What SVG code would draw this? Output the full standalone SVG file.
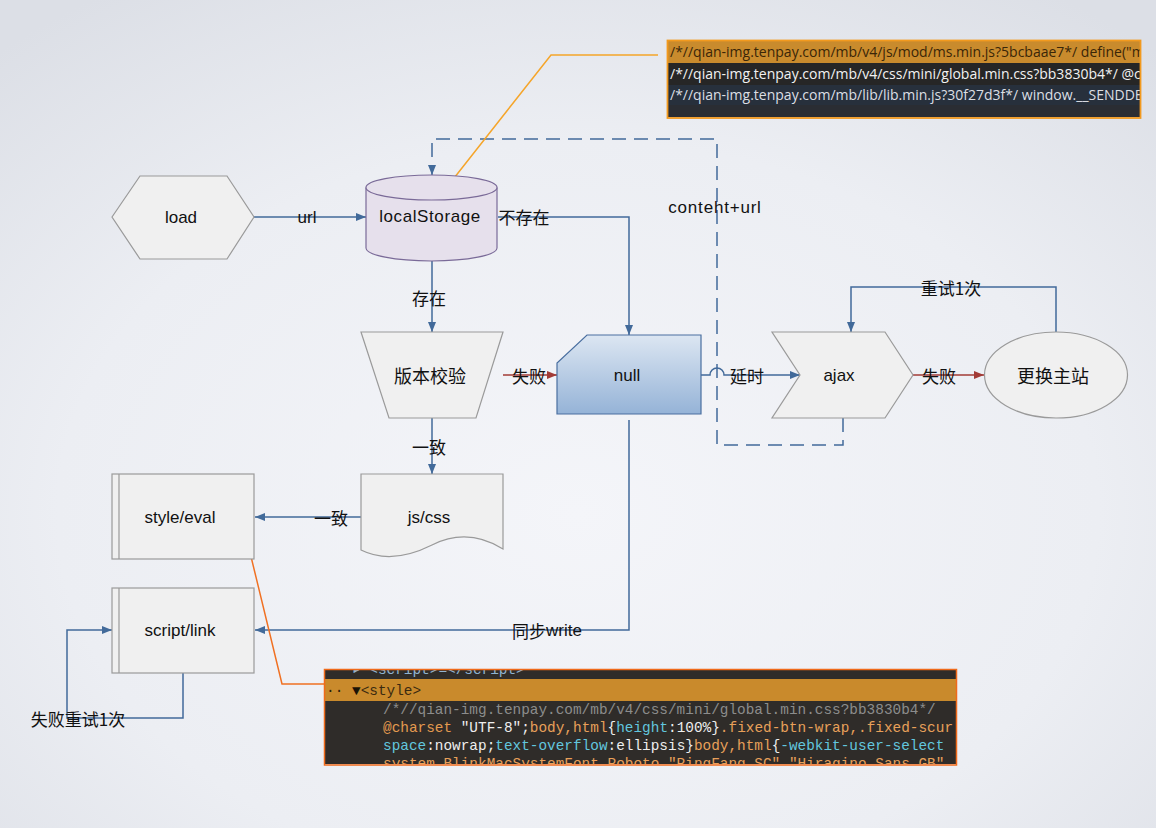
<svg xmlns="http://www.w3.org/2000/svg" width="1156" height="828" viewBox="0 0 1156 828">
  <defs>
    <radialGradient id="bg" cx="0.5" cy="0.62" r="0.75">
      <stop offset="0" stop-color="#f4f5f9"/>
      <stop offset="0.6" stop-color="#eceef3"/>
      <stop offset="1" stop-color="#dcdfe6"/>
    </radialGradient>
    <linearGradient id="nullFill" x1="0" y1="0" x2="0" y2="1">
      <stop offset="0" stop-color="#dce6f2"/>
      <stop offset="1" stop-color="#95b3d7"/>
    </linearGradient>
    <marker id="arr" viewBox="0 0 10 8" refX="10" refY="4" markerWidth="11" markerHeight="8" markerUnits="userSpaceOnUse" orient="auto">
      <path d="M0,0 L10,4 L0,8 Z" fill="#426a9a"/>
    </marker>
    <marker id="arrRed" viewBox="0 0 10 8" refX="10" refY="4" markerWidth="11" markerHeight="8" markerUnits="userSpaceOnUse" orient="auto">
      <path d="M0,0 L10,4 L0,8 Z" fill="#a23b36"/>
    </marker>
    <clipPath id="clipTop"><rect x="668" y="41" width="472" height="76"/></clipPath>
    <clipPath id="clipBottom"><rect x="325" y="670" width="631" height="94"/></clipPath>
    <style>
      .shape { fill: #f0f0f0; stroke: #9a9a9a; stroke-width: 1.2; }
      .lbl { font-family: "Liberation Sans", Arial, sans-serif; font-size: 17px; fill: #111; text-anchor: middle; dominant-baseline: central; }
      .cjk { font-family: "Noto Sans CJK SC", "Liberation Sans", sans-serif; font-size: 17px; fill: #111; text-anchor: middle; dominant-baseline: central; }
      .big { font-size: 18px; }
      .edge { fill: none; stroke: #426a9a; stroke-width: 1.5; }
      .edge-red { fill: none; stroke: #a23b36; stroke-width: 1.5; }
      .dashed { stroke-dasharray: 14 8; }
      .code { font-family: "Open Sans", "Liberation Sans", sans-serif; font-size: 14px; }
      .mono { font-family: "Liberation Mono", "DejaVu Sans Mono", monospace; font-size: 14.4px; }
    </style>
  </defs>

  <rect x="0" y="0" width="1156" height="828" fill="url(#bg)"/>

  <!-- connectors -->
  <g id="connectors">
    <path class="edge" d="M254,217 H366" marker-end="url(#arr)"/>
    <path class="edge" d="M498,217 H629 V335" marker-end="url(#arr)"/>
    <path class="edge" d="M432,261 V332" marker-end="url(#arr)"/>
    <path class="edge-red" d="M503,375 H557" marker-end="url(#arrRed)"/>
    <path class="edge" d="M432,418 V474" marker-end="url(#arr)"/>
    <path class="edge" d="M361,517 H255" marker-end="url(#arr)"/>
    <path class="edge" d="M629,420 V630 H255" marker-end="url(#arr)"/>
    <path class="edge" d="M183,673 V718 H67 V630 H112" marker-end="url(#arr)"/>
    <path class="edge" d="M701,375 H710 A7,7 0 0 1 724,375 H800" marker-end="url(#arr)"/>
    <path class="edge-red" d="M913,375 H984" marker-end="url(#arrRed)"/>
    <path class="edge" d="M1056,332 V287 H851 V332" marker-end="url(#arr)"/>
    <path class="edge dashed" d="M843,418 V445 H717 V139 H432 V175" marker-end="url(#arr)"/>

    <text class="lbl" x="307" y="217">url</text>
    <text class="cjk" x="524" y="216">不存在</text>
    <text class="cjk" x="429" y="297">存在</text>
    <text class="cjk" x="529" y="375">失败</text>
    <text class="cjk" x="429" y="446">一致</text>
    <text class="cjk" x="331" y="517">一致</text>
    <text class="lbl" x="547" y="630"><tspan class="cjk">同步</tspan>write</text>
    <text class="cjk" x="78" y="718">失败重试1次</text>
    <text class="cjk" x="747" y="375">延时</text>
    <text class="cjk" x="939" y="375">失败</text>
    <text class="cjk" x="951" y="287">重试1次</text>
    <text class="lbl" x="715" y="207" style="letter-spacing:0.8px">conteht+url</text>
  </g>

  <!-- callout leader lines -->
  <g id="callout-lines">
    <path d="M447,187 L551,55 H658" fill="none" stroke="#f5a52a" stroke-width="1.5"/>
    <path d="M246,536 L282,684 H324" fill="none" stroke="#f07022" stroke-width="1.5"/>
  </g>

  <g id="node-load">
    <polygon class="shape" points="112,217 140,176 227,176 254,217 227,259 140,259"/>
    <text class="lbl" x="181" y="217">load</text>
  </g>

  <g id="node-localStorage">
    <path d="M366,187.5 V248 A65.5,13 0 0 0 497,248 V187.5" fill="#e6e0ec" stroke="#7a6a98" stroke-width="1.2"/>
    <ellipse cx="431.5" cy="187.5" rx="65.5" ry="12.5" fill="#e6e0ec" stroke="#7a6a98" stroke-width="1.2"/>
    <text class="lbl" x="430" y="216" style="letter-spacing:0.6px">localStorage</text>
  </g>

  <g id="node-version">
    <polygon class="shape" points="361,332 503,332 476,418 389,418"/>
    <text class="cjk big" x="430" y="375">版本校验</text>
  </g>

  <g id="node-null">
    <path d="M587,335 H701 V414 H557 V363 Z" fill="url(#nullFill)" stroke="#4a6fa0" stroke-width="1.2"/>
    <text class="lbl" x="627" y="375">null</text>
  </g>

  <g id="node-ajax">
    <polygon class="shape" points="772,332 885,332 913,375 885,418 772,418 800,375"/>
    <text class="lbl" x="839" y="375">ajax</text>
  </g>

  <g id="node-switch">
    <ellipse class="shape" cx="1056" cy="375" rx="71.5" ry="43"/>
    <text class="cjk big" x="1053" y="375">更换主站</text>
  </g>

  <g id="node-jscss">
    <path class="shape" d="M361,474 H503 V549 C482,536 458,532 432,545 C410,556 385,562 361,550 Z"/>
    <text class="lbl" x="429" y="517">js/css</text>
  </g>

  <g id="node-style-eval">
    <rect class="shape" x="112" y="474" width="142" height="85"/>
    <line x1="119" y1="474" x2="119" y2="559" stroke="#9a9a9a" stroke-width="1.2"/>
    <text class="lbl" x="180" y="517">style/eval</text>
  </g>

  <g id="node-script-link">
    <rect class="shape" x="112" y="588" width="142" height="85"/>
    <line x1="119" y1="588" x2="119" y2="673" stroke="#9a9a9a" stroke-width="1.2"/>
    <text class="lbl" x="180" y="630">script/link</text>
  </g>

  <!-- cached source listing -->
  <g id="callout-storage">
    <g clip-path="url(#clipTop)">
      <rect x="668" y="41" width="472" height="22" fill="#c98b2d"/>
      <rect x="668" y="63" width="472" height="22" fill="#262626"/>
      <rect x="668" y="85" width="472" height="20" fill="#27303c"/>
      <rect x="668" y="105" width="472" height="13" fill="#2a2d33"/>
      <text class="code" x="670" y="57" fill="#3a2608">/*//qian-img.tenpay.com/mb/v4/js/mod/ms.min.js?5bcbaae7*/ define("m</text>
      <text class="code" x="670" y="79" fill="#f2f2f2">/*//qian-img.tenpay.com/mb/v4/css/mini/global.min.css?bb3830b4*/ @c</text>
      <text class="code" x="670" y="100" fill="#dcdfe4">/*//qian-img.tenpay.com/mb/lib/lib.min.js?30f27d3f*/ window.__SENDDE</text>
    </g>
    <rect x="667.5" y="40.5" width="473" height="77.5" fill="none" stroke="#f29a1e" stroke-width="1.8"/>
  </g>

  <!-- inlined style element -->
  <g id="callout-dom">
    <g clip-path="url(#clipBottom)">
      <rect x="325" y="670" width="631" height="95" fill="#2f2c29"/>
      <rect x="325" y="679" width="631" height="22" fill="#c98a2c"/>
      <text class="mono" x="352" y="674" fill="#8fb3d0">▸ &lt;script&gt;≡&lt;/script&gt;</text>
      <text class="mono" x="326" y="695" fill="#2a1c08">··</text>
      <text class="mono" x="352" y="695" fill="#1a1205">▼<tspan fill="#3b2a10">&lt;style&gt;</tspan></text>
      <text class="mono" x="383" y="714" fill="#8c8c8c">/*//qian-img.tenpay.com/mb/v4/css/mini/global.min.css?bb3830b4*/</text>
      <text class="mono" x="383" y="732"><tspan fill="#e39a4f">@charset</tspan><tspan fill="#eeeeee"> "UTF-8";</tspan><tspan fill="#e8a05a">body,html</tspan><tspan fill="#eeeeee">{</tspan><tspan fill="#62c6de">height</tspan><tspan fill="#eeeeee">:100%}</tspan><tspan fill="#e8a05a">.fixed-btn-wrap,.fixed-scur</tspan></text>
      <text class="mono" x="383" y="750"><tspan fill="#62c6de">space</tspan><tspan fill="#eeeeee">:nowrap;</tspan><tspan fill="#62c6de">text-overflow</tspan><tspan fill="#eeeeee">:ellipsis}</tspan><tspan fill="#e8a05a">body,html</tspan><tspan fill="#eeeeee">{</tspan><tspan fill="#62c6de">-webkit-user-select</tspan></text>
      <text class="mono" x="383" y="768" fill="#e8a05a">system,BlinkMacSystemFont,Roboto,"PingFang SC","Hiragino Sans GB"</text>
    </g>
    <rect x="324.5" y="669.5" width="632" height="95.5" fill="none" stroke="#f06a1a" stroke-width="1.5"/>
  </g>
</svg>
